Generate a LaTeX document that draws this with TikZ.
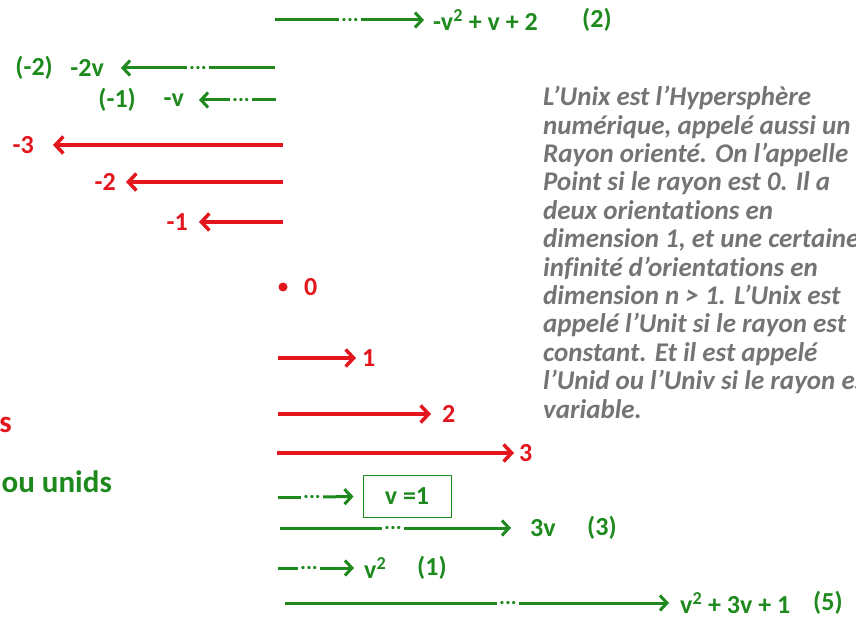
\documentclass[tikz,border=0pt]{standalone}
\usepackage{fontspec}
\setmainfont{Carlito}[Ligatures=NoCommon]
\usetikzlibrary{positioning,arrows.meta}
\definecolor{unixred}{HTML}{E3151D}
\definecolor{unixgreen}{HTML}{1E8A1E}
\definecolor{unixgray}{HTML}{747474}
\tikzset{
  redlab/.style={text=unixred,font=\bfseries\fontsize{26}{30}\selectfont,inner sep=0pt},
  grnlab/.style={text=unixgreen,font=\bfseries\fontsize{26}{30}\selectfont,inner sep=0pt},
  redarr/.style={draw=unixred,line width=3.5pt,-{Straight Barb[length=8pt,width=17pt]}},
  grnarr/.style={draw=unixgreen,line width=3pt,-{Straight Barb[length=7pt,width=15pt]}},
  grnline/.style={draw=unixgreen,line width=3pt},
  ellip/.style={text=unixgreen,font=\bfseries\fontsize{22}{22}\selectfont,
    text height=2.5pt,text depth=0pt,inner sep=2pt},
  gap/.style={shorten >=#1},
}
\begin{document}
\begin{tikzpicture}[x=1pt,y=-1pt]
\useasboundingbox (0,0) rectangle (856,617);
% rayons variables (haut)
\coordinate (t0) at (275,20);
\node[ellip] (tdots) at (350,20) {...};
\node[grnlab,anchor=west] (tlab) at (433,20) {-v\textsuperscript{2} + v + 2};
\node[grnlab,anchor=west] (tnum) at (582,20) {(2)};
\draw[grnline] (t0) -- (tdots);
\draw[grnarr,gap=9pt] (tdots) -- (tlab);

\coordinate (a0) at (275,68);
\node[ellip] (adots) at (198,68) {...};
\node[grnlab,anchor=east] (alab) at (104,68) {-2v};
\node[grnlab,anchor=east] (anum) at (53,68) {(-2)};
\draw[grnline] (a0) -- (adots);
\draw[grnarr,gap=17pt] (adots) -- (alab);

\coordinate (b0) at (276,100);
\node[ellip] (bdots) at (241,100) {...};
\node[grnlab,anchor=east] (blab) at (184,100) {-v};
\node[grnlab,anchor=east] (bnum) at (136,100) {(-1)};
\draw[grnline] (b0) -- (bdots);
\draw[grnarr,gap=15pt] (bdots) -- (blab);

% rayons constants
\coordinate (r3) at (283,145);
\node[redlab,anchor=east] (m3) at (34,145) {-3};
\draw[redarr,gap=19pt] (r3) -- (m3);
\coordinate (r2) at (283,182);
\node[redlab,anchor=east] (m2) at (116,182) {-2};
\draw[redarr,gap=10pt] (r2) -- (m2);
\coordinate (r1) at (283,222);
\node[redlab,anchor=east] (m1) at (188,222) {-1};
\draw[redarr,gap=11pt] (r1) -- (m1);

\fill[unixred] (283,287) circle (4.5pt);
\node[redlab,anchor=west] (z0) at (304,287) {0};

\coordinate (p1) at (278,358);
\node[redlab,anchor=west] (n1) at (362,358) {1};
\draw[redarr,gap=6pt] (p1) -- (n1);
\coordinate (p2) at (278,414);
\node[redlab,anchor=west] (n2) at (442,414) {2};
\draw[redarr,gap=11pt] (p2) -- (n2);
\coordinate (p3) at (277,453);
\node[redlab,anchor=west] (n3) at (519,453) {3};
\draw[redarr,gap=5pt] (p3) -- (n3);

% restes a gauche
\node[redlab,font=\bfseries\fontsize{31}{36}\selectfont,anchor=east] (ls) at (12,425) {s};
\node[grnlab,font=\bfseries\fontsize{31}{36}\selectfont,anchor=east] (lu) at (112,482) {ou unids};

% rayons variables (bas)
\coordinate (u0) at (278,497);
\node[ellip] (udots) at (312,497) {...};
\node[grnlab,draw=unixgreen,line width=1pt,minimum width=88pt,minimum height=42pt] (vbox) at (407,496) {v =1};
\draw[grnline] (u0) -- (udots);
\draw[grnarr,gap=9pt] (udots) -- (vbox);

\coordinate (w0) at (280,528);
\node[ellip] (wdots) at (393,528) {...};
\node[grnlab,anchor=west] (wlab) at (530,528) {3v};
\node[grnlab,anchor=west] (wnum) at (587,528) {(3)};
\draw[grnline] (w0) -- (wdots);
\draw[grnarr,gap=19pt] (wdots) -- (wlab);

\coordinate (q0) at (278,568);
\node[ellip] (qdots) at (309,568) {...};
\node[grnlab,anchor=west] (qlab) at (364,568) {v\textsuperscript{2}};
\node[grnlab,anchor=west] (qnum) at (417,568) {(1)};
\draw[grnline] (q0) -- (qdots);
\draw[grnarr,gap=10pt] (qdots) -- (qlab);

\coordinate (k0) at (285,603);
\node[ellip] (kdots) at (508,603) {...};
\node[grnlab,anchor=west] (klab) at (680,603) {v\textsuperscript{2} + 3v + 1};
\node[grnlab,anchor=west] (knum) at (813,603) {(5)};
\draw[grnline] (k0) -- (kdots);
\draw[grnarr,gap=11pt] (kdots) -- (klab);

% definition
\node[anchor=north west,align=left,inner sep=0pt,text=unixgray,
  font=\bfseries\itshape\fontsize{27}{28.4}\selectfont] (def) at (543,86)
  {L’Unix est l’Hypersphère\\
   numérique, appelé aussi un\\
   Rayon orienté. On l’appelle\\
   Point si le rayon est 0. Il a\\
   deux orientations en\\
   dimension 1, et une certaine\\
   infinité d’orientations en\\
   dimension n > 1. L’Unix est\\
   appelé l’Unit si le rayon est\\
   constant. Et il est appelé\\
   l’Unid ou l’Univ si le rayon est\\
   variable.};
\end{tikzpicture}
\end{document}
